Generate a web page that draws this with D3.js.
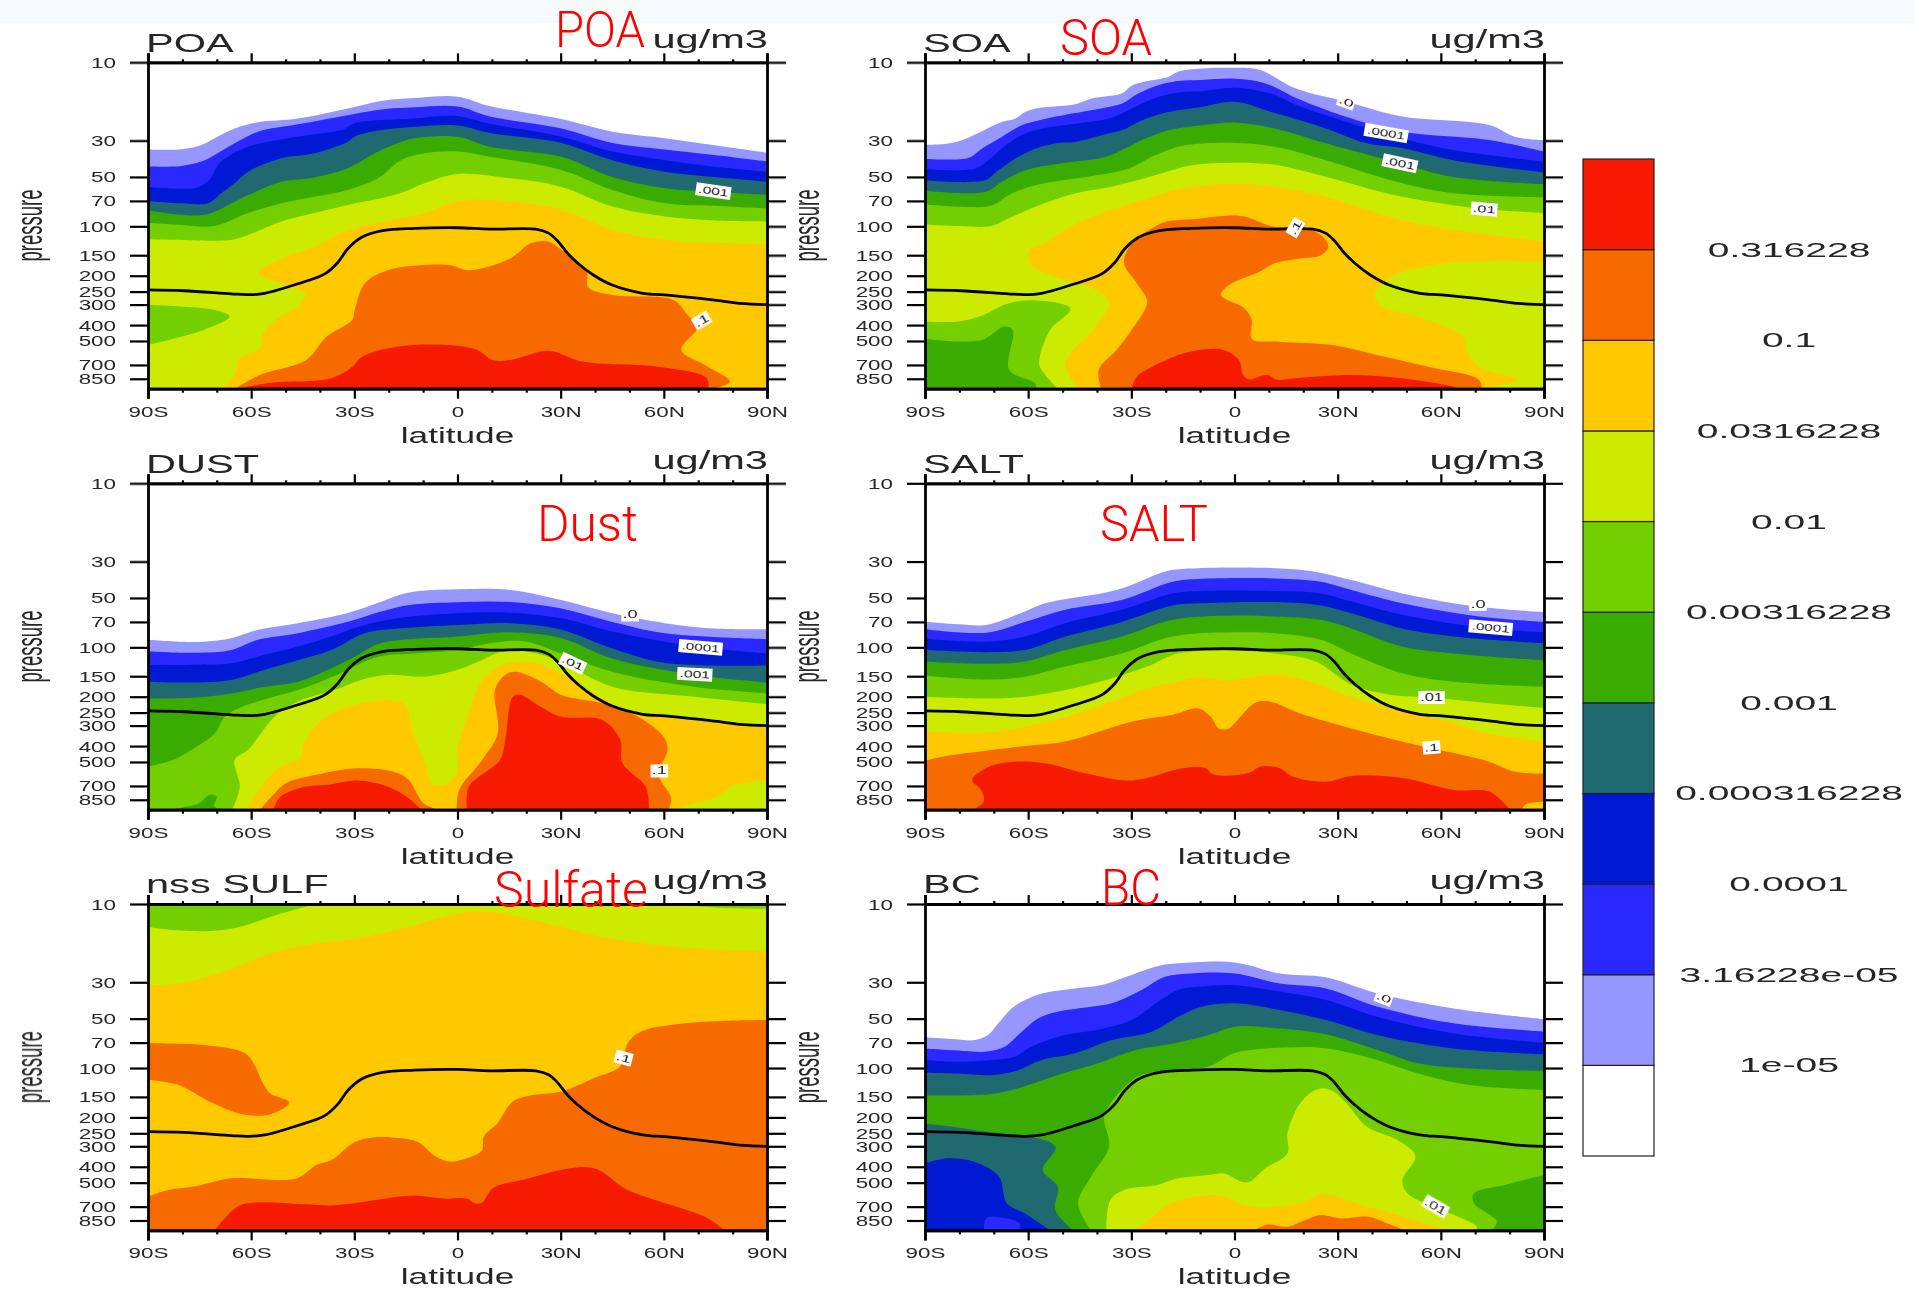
<!DOCTYPE html>
<html>
<head>
<meta charset="utf-8">
<script src="https://cdn.jsdelivr.net/npm/d3@7"></script>
<style>
	html, body {margin:0; padding:0; background:#fff;}
	text {font-family:"Liberation Sans", Arial, sans-serif; fill:#262626;}
</style>
</head>
<body>
<svg id="chart" width="1915" height="1290"></svg>
<script>
'use strict';

// legend, low to high. index in a band's first field
const band_colors = ["#ffffff","#9696ff","#2828ff","#0019d2","#1f6a70","#3aab00","#73cf00","#cdeb00","#ffc900","#f76a00","#f61b00"];
const legend_labels = ["1e-05","3.16228e-05","0.0001","0.000316228","0.001","0.00316228","0.01","0.0316228","0.1","0.316228"];

const pressure_ticks = [10,30,50,70,100,150,200,250,300,400,500,700,850];
const lat_ticks = [-90,-60,-30,0,30,60,90];
const lat_tick_labels = ["90S","60S","30S","0","30N","60N","90N"];
const lat_minor_ticks = [-80,-70,-50,-40,-20,-10,10,20,40,50,70,80];

// tropopause, [lat, hPa], same in all panels
const tropopause = [[-90,244],[-79.6,247],[-65.8,258],[-60.9,261],[-56.1,256],[-46.4,224],[-38.6,195],[-34.8,166],[-31.9,137],[-28,117],[-22.2,106.6],[-12.5,103],[0,102],[9.4,104],[22.8,104],[26.5,110],[29,122],[32,146],[35,168],[39.5,198],[45,228],[53.9,256],[60.3,262],[74.7,282],[82.1,295],[90,300]];

// each band: [colour level, [[lat, hPa], ...]], painted in this order
const poa_bands = [
	[1,[[-90,34],[-80.3,33.9],[-74.5,31.9],[-70.6,29],[-64.8,25.3],[-58,23.2],[-46.4,22],[-31.9,19.1],[-22.2,17.2],[-12.5,16.5],[0.1,16.2],[9.4,18.5],[30.2,22.2],[45,26.5],[60.3,29],[74.7,32],[90,35.5]]],
	[2,[[-90,43.2],[-80.3,42.8],[-74.5,40.3],[-70.6,36.7],[-64.8,31.2],[-58,26.5],[-46.4,23.9],[-31.9,21],[-22.2,19.4],[-12.5,18.8],[0.1,18.6],[9.4,21.4],[30.2,25.3],[45,31],[60.3,34],[74.7,36.8],[90,40.3]]],
	[3,[[-90,57.5],[-80.3,59],[-76.4,58.5],[-72.6,53.4],[-68.7,40.3],[-60.9,32.7],[-46.4,28.4],[-33.8,25.9],[-29.9,23.5],[-22.2,22.5],[-12.5,22],[0.1,21.3],[9.4,23.7],[30.2,28.4],[45,35],[60.3,39.5],[74.7,43.3],[90,46.4]]],
	[4,[[-90,70],[-80.3,72.4],[-72.6,72.4],[-68.7,62.8],[-64.8,54.7],[-60.9,46.4],[-51.2,38.5],[-41.6,35.9],[-31.9,30.5],[-29.9,28.4],[-22.2,25.9],[-12.5,24.7],[0.1,24.3],[9.4,27],[30.2,31],[45,39.5],[60.3,46.4],[74.7,50],[90,53.4]]],
	[5,[[-90,80],[-80.3,85],[-73.5,85],[-68.7,78],[-60.9,64.5],[-51.2,53.4],[-41.6,50.3],[-31.9,44.3],[-24.1,35.9],[-16.4,30.5],[-12.5,29],[0.1,28.4],[9.4,32.7],[30.2,37.7],[45,50],[60.3,58.5],[74.7,61.5],[90,64.2]]],
	[6,[[-90,95],[-80.3,98],[-70.6,99.5],[-60.9,83],[-51.2,72.4],[-41.6,66],[-31.9,60],[-23.1,51],[-16.4,39.5],[-9.6,35.9],[0.1,35],[9.4,37.7],[30.2,45.4],[45,60],[60.3,72.4],[74.7,75],[90,77.8]]],
	[7,[[-90,120],[-80.3,121],[-65.8,121],[-60.9,113],[-51.2,93.6],[-41.6,83],[-31.9,74],[-22.2,67.5],[-15.4,61.5],[-9.6,54.7],[0.1,48],[15.4,51],[30.2,57.5],[45,75.8],[60.3,87],[74.7,92],[90,93]]],
	[8,[[-68.5,977],[-64.8,805],[-63.3,637],[-57.4,554],[-56.6,449],[-52.9,372],[-45.5,295],[-44.3,256],[-48.4,234],[-58.1,192],[-52.2,161],[-41.6,133],[-31.9,105],[-22.2,94],[-9.6,83],[0.1,70],[15.4,70.5],[30.2,79],[45,105],[60.3,121],[74.7,126],[90,128]]],
	[9,[[-64.8,977],[-57.4,805],[-44,653],[-38.1,471],[-30.6,372],[-29.9,323],[-26.9,222],[-20.3,185],[-6.9,171],[-1.7,173],[3.5,185],[15.4,157],[21.3,127],[26.5,124],[30.2,139],[37.6,189],[37.9,234],[45,262],[62.9,282],[67.3,355],[70.3,400],[65.1,567],[71.8,698],[79.2,884],[74.7,977]]],
	[10,[[-63.3,977],[-54.4,900],[-36.6,843],[-30.6,718],[-27.7,623],[-17.3,541],[-3.9,528],[5.7,567],[10.2,653],[15.4,653],[26.5,573],[36.1,667],[58.4,718],[72.5,843],[72.9,977]]],
	[6,[[-90,301],[-81.1,308],[-70.7,323],[-66.3,355],[-73.7,428],[-82.6,484],[-90,528]]]
];

const soa_bands = [
	[1,[[-90,31.8],[-84.2,31.5],[-79.3,29.9],[-75.5,27.6],[-67.7,23.1],[-63.8,22.1],[-60.9,20.1],[-57,19],[-46.4,18],[-41.6,16.6],[-32.8,15.5],[-29.9,13.9],[-26,13.1],[-19.3,12.3],[-16.4,11.4],[-9.6,10.9],[0.1,10.8],[7.3,11.1],[17.7,14.4],[32.5,17.4],[48.8,21.4],[74.1,24.1],[81.5,28.4],[90,29.8]]],
	[2,[[-90,38.7],[-77.4,38.3],[-73.5,33.6],[-67.7,28.5],[-61.9,24.2],[-57,22.6],[-46.4,20.4],[-36.7,18.7],[-32.8,17.9],[-28,15.5],[-22.2,13.8],[-16.4,13],[-9.6,12.8],[0.1,12.6],[8.8,13.4],[19.1,16.9],[34,22],[48.8,26.5],[74.1,29.8],[90,35.1]]],
	[3,[[-90,44.9],[-75.5,44.5],[-71.6,39.6],[-65.8,31.3],[-60.9,27.2],[-56.1,25.4],[-46.4,23.7],[-36.7,22.1],[-32.8,20.5],[-28,18.3],[-22.2,16.3],[-16.4,15.3],[-9.6,15],[0.1,14.3],[11.7,15.8],[19.1,18.6],[43.7,27],[60.7,33.4],[90,40.3]]],
	[4,[[-90,52.4],[-72.6,52.4],[-68.7,45.5],[-63.8,38.7],[-58,33.6],[-51.2,31],[-46.4,30.6],[-36.7,27.2],[-32.8,26],[-27,22.6],[-19.3,20.1],[-9.6,18.7],[0.1,17.4],[11.7,20.4],[26.6,25.3],[38.5,31.2],[48.8,33.4],[63.7,39.5],[90,46.9]]],
	[5,[[-90,60.4],[-72.6,61.8],[-67.7,53.6],[-60.9,45.5],[-51.2,41.5],[-37.7,37.8],[-31.9,33.6],[-27,29.9],[-19.3,26],[-9.6,24.2],[0.1,23.3],[11.7,25.3],[26.6,31.2],[48.1,41.3],[63.7,50],[90,55.3]]],
	[6,[[-90,73.7],[-77.4,76.3],[-70.6,74.6],[-64.8,63],[-56.1,55.1],[-43.5,50],[-30.9,44.5],[-23.1,36.9],[-15.4,32.4],[0.1,31],[11.7,32.7],[26.6,39.5],[48.8,54.7],[63.7,62.8],[90,66.5]]],
	[7,[[-90,97.3],[-80.3,99.5],[-70.6,99.5],[-65.8,89.7],[-57,74.6],[-46.4,63],[-35.7,57.4],[-23.1,48.9],[-12.5,42.5],[0.1,40.9],[11.7,42.2],[26.6,50],[48.8,66],[72.6,78.5],[90,83]]],
	[8,[[-45.5,977],[-49.2,718],[-47.7,597],[-40.3,408],[-36.5,295],[-40.3,244],[-52.1,203],[-59.6,168],[-59.6,139],[-55.1,127],[-50.3,108],[-41.6,87.5],[-31.9,74.6],[-22.2,64.5],[-12.5,57.4],[0.1,55],[11.7,57.4],[26.6,66],[48.8,92],[63.7,105.4],[90,124]]],
	[7,[[90,164],[69.6,164],[57.8,172],[45.9,203],[40.7,262],[42.9,308],[53.3,355],[62.2,418],[66.7,471],[67.4,567],[71.1,718],[82.3,862],[71.6,977]]],
	[9,[[-38.8,977],[-39.5,750],[-34.3,567],[-29.9,428],[-26.1,323],[-25.4,282],[-28.4,222],[-32.1,168],[-29.9,127],[-24.1,103],[-20.2,94],[-10.6,90],[-1.6,86],[2.8,87],[11.7,100.5],[19.1,100.5],[25.1,113],[27.3,133],[25.1,150],[19.1,157],[11.7,168],[7.3,189],[-1.6,228],[-3.9,262],[2.8,316],[5,372],[5,484],[13.2,505],[28,528],[41.4,608],[56.3,718],[71.1,862],[71.9,977]]],
	[10,[[-29.9,977],[-28.4,823],[-23.9,718],[-15,597],[-7.6,559],[-3.1,567],[1.3,653],[2.5,805],[4.3,857],[9.5,805],[12.5,862],[17.7,843],[34,805],[48.8,843],[63.7,950],[65.2,977]]],
	[6,[[-90,380],[-80.3,380],[-72.9,347],[-67,301],[-59.6,282],[-47.7,317],[-53.6,428],[-56.6,623],[-56.6,718],[-51.4,977]]],
	[5,[[-90,484],[-73.7,495],[-67,408],[-64.5,428],[-65.5,750],[-58,906],[-57.6,977]]]
];

const dust_bands = [
	[1,[[-90,90],[-75.5,92.8],[-65.8,88],[-58,78.2],[-46.4,71.2],[-31.9,61.7],[-22.2,52.7],[-14.4,46.4],[0.1,44.3],[15.4,44.7],[30.2,51.5],[45,62],[60.3,71.2],[74.7,76.8],[90,77.5]]],
	[2,[[-90,105.5],[-75.5,108],[-65.8,103.8],[-58,90],[-46.4,82],[-31.9,69.9],[-22.2,60.5],[-14.4,55.3],[0.1,53.1],[15.4,53],[30.2,58],[45,70],[60.3,82],[90,89]]],
	[3,[[-90,128],[-80.3,128],[-65.8,125],[-56.1,111],[-46.4,99],[-36.7,86],[-27,73.2],[-17.3,66.5],[0.1,62],[15.4,61.5],[30.2,66.5],[45,80],[70.7,100],[90,109]]],
	[4,[[-90,162],[-80.3,164],[-65.8,158],[-56.1,137],[-46.4,120],[-36.7,104],[-27,82],[-17.3,76.8],[0.1,73],[15.4,71.2],[30.2,78],[45,101.5],[60,124],[90,129]]],
	[5,[[-90,205],[-75.5,202],[-65.8,191],[-56.1,174],[-46.4,162],[-36.7,134],[-29.9,114],[-22.2,94.5],[0.1,86],[15.4,81],[30.2,88],[45,117],[68.7,147],[90,164]]],
	[6,[[-90,534],[-82.6,484],[-77.4,422],[-70.6,335],[-67.7,265],[-63.8,236],[-57,210],[-46.4,182],[-36,150],[-28,125],[-22.2,113],[-12.5,109],[0.1,104],[9.4,94.5],[19.7,92],[30.2,109],[45,141],[68.7,174],[90,191]]],
	[5,[[-84.1,977],[-75.2,892],[-72.2,795],[-70,812],[-70.7,935],[-63.3,977]]],
	[7,[[-65.5,977],[-63.3,706],[-64.8,484],[-60.9,422],[-53.2,265],[-46.4,214],[-35.7,182],[-28,158],[-20.2,147],[-9.6,151],[0.1,137],[5,125],[13.9,105],[22.8,109],[30.2,123],[45,174],[68.8,200],[90,222]]],
	[8,[[-61,977],[-58.8,797],[-52.2,546],[-45.5,464],[-44.3,365],[-38.1,265],[-29.9,224],[-15.8,219],[-12.8,335],[-9.1,534],[-7.6,674],[-3.9,691],[-0.2,588],[0.1,404],[4.2,219],[6.5,166],[13.1,128],[21.3,123],[30.2,144],[39.1,191],[51,247],[67.3,277],[90,305]]],
	[7,[[90,643],[80.7,691],[74.7,830],[65.8,935],[64.3,977]]],
	[9,[[-57.4,977],[-54.4,830],[-49.9,674],[-41,598],[-29.2,546],[-18.8,572],[-14.3,640],[-9.9,892],[-5.4,977]]],
	[10,[[-53.6,977],[-51.4,812],[-44,706],[-38.1,691],[-29.2,648],[-20.3,706],[-14.3,830],[-10.6,977]]],
	[9,[[-0.2,977],[0.5,740],[7.2,484],[11.7,335],[10.9,182],[13.9,147],[16.9,141],[24.3,162],[30.2,195],[42.1,219],[52.5,265],[59.9,350],[61.1,422],[58.4,588],[62.1,830],[61.4,977]]],
	[10,[[2.8,977],[3.3,706],[12.4,484],[13.9,365],[16.1,200],[18.3,195],[24.3,231],[30.2,265],[42.1,277],[47.3,365],[48,509],[54.7,706],[55.7,977]]]
];

const salt_bands = [
	[1,[[-90,69.9],[-80.3,72.4],[-72.2,73],[-61,60.5],[-55.1,53.9],[-34.3,44.7],[-19.5,34.2],[-10.6,32.9],[11.7,32.9],[22.1,34.2],[34,38.9],[48.8,46.9],[71.1,56.6],[90,61]]],
	[2,[[-90,77.5],[-72.2,81.4],[-61,70],[-49.2,59],[-32.8,51.5],[-18,39.8],[-10.6,38.3],[11.7,38],[25.1,39.8],[34,44.7],[48.8,53.9],[71.1,64.9],[90,70]]],
	[3,[[-90,88.8],[-72.2,92.4],[-61,85.9],[-49.2,71.2],[-32.8,59.1],[-18,47],[-10.6,45.4],[11.7,45.4],[25.1,47],[34,52.6],[48.8,63.4],[74.5,76.8],[90,81]]],
	[4,[[-90,104],[-72.2,107],[-61,104],[-49.2,86],[-32.8,70],[-18,55.6],[-10.6,53.9],[11.7,53],[25.1,55.6],[34,62],[48.8,76.8],[63.7,85.9],[90,94.5]]],
	[5,[[-90,122],[-72.2,126],[-61,122],[-49.2,104],[-32.8,86],[-18,68],[-0.2,64],[11.7,64.9],[25.1,68],[34,76.8],[48.8,99],[63.7,109],[90,120]]],
	[6,[[-90,149],[-72.2,157],[-61,151],[-49.2,131],[-32.8,109],[-18,86],[-0.2,81],[11.7,82],[25.1,90],[34,109],[48.8,144],[63.7,162],[90,174]]],
	[7,[[-90,200],[-72.2,205],[-61,200],[-49.2,182],[-37.3,158],[-25.4,131],[-16.5,109],[-0.2,105],[11.7,109],[23.6,122],[34,169],[45.9,195],[57.3,202],[74,219],[90,234]]],
	[8,[[-90,325],[-72.2,331],[-61,305],[-49.2,265],[-37.3,219],[-25.4,178],[-16.5,162],[-10.6,152],[-1.7,159],[5.7,150],[13.2,147],[22.1,162],[34,200],[48.8,247],[60.7,277],[74,335],[90,375]]],
	[9,[[-90,490],[-84.8,464],[-61,400],[-49.2,375],[-29.9,284],[-18,258],[-10.6,236],[-6.9,265],[-4.6,312],[-1.6,312],[1.3,271],[5.8,219],[10.2,214],[19.1,253],[34,312],[48.8,375],[57.3,413],[74,498],[81.5,573],[90,588]]],
	[10,[[-75.9,977],[-72.9,872],[-73.7,740],[-76.3,643],[-71.4,534],[-64,498],[-55.1,509],[-43.2,588],[-31.3,648],[-25.4,625],[-15,546],[-8.3,546],[-6.8,588],[-1.6,606],[5,573],[7.3,534],[13.2,546],[16.9,614],[26.6,660],[34,608],[48.8,625],[63.7,740],[74.1,758],[80,960],[80.8,977]]],
	[8,[[83.7,977],[84.5,912],[90,872]]]
];

const sulf_bands = [
	[7,[[-90,10],[90,10]]],
	[6,[[-90,13.8],[-82.6,14.4],[-72.2,14.6],[-63.3,13.8],[-52.9,11.7],[-41,10]]],
	[6,[[61.3,10],[74.7,10.5],[90,10.7]]],
	[8,[[-90,31.2],[-81.1,30.5],[-70.7,27],[-54.4,20],[-44,17.8],[-29.2,16.2],[-14.3,13.8],[0.5,11.4],[9.4,11.1],[19.7,12.2],[30.2,13.8],[45,16.3],[60.3,18],[74.7,18.9],[90,19.5]]],
	[9,[[-90,70.5],[-73.7,72.4],[-61.8,81.4],[-58.8,98],[-56.6,124],[-54.4,143],[-48.9,162],[-54.4,191],[-62.5,191],[-72.2,160],[-81.1,127],[-90,118]]],
	[9,[[-90,608],[-84.1,554],[-76.6,528],[-66.3,471],[-46.9,471],[-41,390],[-36.6,364],[-30.6,288],[-26.2,268],[-18.8,265],[-11.4,283],[-7,339],[-2.5,372],[2.7,355],[7.1,317],[7.6,262],[11.6,217],[16.1,160],[21.3,147],[30.2,139],[39.8,115],[47.2,98],[49.5,70.5],[53.2,60],[64.2,53.9],[79,51.5],[90,51]]],
	[10,[[-70.7,977],[-64,700],[-58.8,660],[-44,678],[-36.6,688],[-21.7,628],[-12.8,598],[-3.9,625],[2.7,625],[5,667],[7.2,660],[10.2,542],[18.3,484],[39.1,405],[49.5,554],[71.8,805],[77.7,977]]]
];

const bc_bands = [
	[1,[[-90,64.9],[-82.2,66.5],[-75.5,67.5],[-71.6,62.7],[-68.7,53.4],[-64.8,43.3],[-60.9,38.5],[-56.1,35.1],[-46.4,32.7],[-38.6,31.2],[-31.9,28],[-22.2,23.9],[-16.4,23],[0.1,22.7],[13.2,26.5],[26.6,28],[41.4,35],[63.7,43.3],[90,50.3]]],
	[2,[[-90,75.9],[-80.3,78.2],[-72.6,79.5],[-66.7,74],[-62.9,63],[-57,49.8],[-51.2,45.3],[-41.6,42.3],[-35.7,40.3],[-27,33.4],[-20.2,27.8],[-12.5,26.5],[0.1,26.5],[13.2,30.5],[26.6,32.7],[41.4,42.2],[63.7,53.4],[90,60]]],
	[3,[[-90,89.4],[-80.3,91.7],[-70.6,89.4],[-63.8,85],[-59,74],[-49.3,63],[-39.6,58.5],[-29.9,51],[-22.2,39.5],[-16.4,33.4],[-7.6,31.6],[0.1,31.3],[13.2,34.2],[26.6,38.5],[41.4,48.7],[63.7,61.5],[90,70]]],
	[4,[[-90,106.8],[-80.3,108],[-70.6,110.6],[-62.9,103],[-56.1,89.4],[-46.4,81.3],[-35.7,67.5],[-24.1,60],[-16.4,48.7],[-9.6,42.3],[0.1,40.3],[13.2,44.3],[26.6,51],[41.4,62.8],[63.7,76],[90,82.5]]],
	[5,[[-90,147],[-70.6,144],[-62.9,133],[-51.2,110],[-39.6,93.6],[-29,77.9],[-17.3,70.6],[-7.6,63],[0.1,56],[13.2,57.5],[26.6,62.3],[41.4,77.5],[53.3,93.6],[68.2,100.5],[90,104]]],
	[6,[[-41.7,977],[-45.5,667],[-41.7,459],[-36.5,301],[-38,198],[-36.7,172],[-31.9,130],[-27,110],[-18,103],[-7.6,98],[0.1,81],[14.7,75],[26.6,75.8],[41.4,89.4],[53.3,108],[68.2,127],[90,136]]],
	[5,[[90,449],[78.5,517],[69.6,582],[69.6,667],[76.3,862],[74.8,977]]],
	[4,[[-90,218],[-75.5,239],[-52.1,301],[-55.8,418],[-51.4,528],[-52.1,736],[-46.9,977]]],
	[3,[[-90,380],[-83.3,355],[-75.9,372],[-68.5,459],[-66.2,667],[-61,768],[-53.6,977]]],
	[2,[[-72.9,977],[-72.2,824],[-68.5,812],[-62.5,884],[-62.5,977]]],
	[7,[[-37.3,977],[-36.1,637],[-32.1,554],[-22.4,517],[-16.5,471],[-7.6,449],[-3.1,439],[3.6,499],[8.8,411],[15.4,331],[15.4,250],[19.1,164],[23.6,136],[28,136],[32.5,164],[38.5,228],[47.4,275],[52.6,345],[48.8,484],[50.3,582],[60.7,736],[70.4,927],[70.4,977]]],
	[8,[[-29.1,977],[-25.4,862],[-19.5,683],[-9.1,598],[-3.1,608],[4.3,698],[19.1,667],[25.8,588],[37,683],[48.8,805],[60.7,950],[65.2,977]]],
	[9,[[5.8,977],[9.5,900],[15.4,927],[20.6,843],[25.1,787],[31,826],[38.5,805],[44.4,884],[49.6,977]]]
];

// contour labels: [lat, hPa, text, angle]
const poa_labels = [[74.4,61,".001",8],[71,375,".1",-30]];
const soa_labels = [[32.5,17.4,".0",20],[44.1,27,".0001",10],[48.1,41.3,".001",12],[72.6,78.5,".01",5],[17.7,102,".1",-60]];
const dust_labels = [[50.2,63.5,".0",0],[70.7,100,".0001",5],[69,146,".001",3],[33.5,125,".01",25],[58.7,567,".1",0]];
const salt_labels = [[70.8,54.7,".0",0],[74.5,75.8,".0001",5],[57.3,202,".01",0],[57.3,408,".1",-5]];
const sulf_labels = [[48.3,87,".1",15]];
const bc_labels = [[43.4,37.3,".0",20],[58.5,698,".01",30]];

const panels = [
	{title:"POA", left:148, top:62.3, bands:poa_bands, labels:poa_labels},
	{title:"SOA", left:925, top:62.3, bands:soa_bands, labels:soa_labels},
	{title:"DUST", left:148, top:483.3, bands:dust_bands, labels:dust_labels},
	{title:"SALT", left:925, top:483.3, bands:salt_bands, labels:salt_labels},
	{title:"nss SULF", left:148, top:904, bands:sulf_bands, labels:sulf_labels},
	{title:"BC", left:925, top:904, bands:bc_bands, labels:bc_labels}
];

// red notes pasted over the figure: text, left, right, baseline
const red_notes = [["POA",555,645,47],["SOA",1060,1152,55],["Dust",537,638,541],["SALT",1100,1208,541],["Sulfate",494,648,907],["BC",1101,1161,905]];

const panel_w = 619;
const panel_h = 326.4;
const stretch = 1.6;	// the whole figure is wider than tall

const svg = d3.select("#chart");
svg.append("rect").attr("width",1915).attr("height",23).attr("fill","#f6fafc");

const figure = svg.append("g").style("filter","blur(0.6px)");

const x = d3.scaleLinear().domain([-90,90]).range([0,panel_w]);
const y = d3.scaleLog().domain([10,977]).range([0,panel_h]);
const smooth = d3.line().x(d => x(d[0])).y(d => y(d[1])).curve(d3.curveCatmullRom.alpha(0.5));

// which plot corners the band has to go round to close up
function closing(first, last){
	const on_l = d => d[0] <= -90, on_r = d => d[0] >= 90, on_b = d => d[1] >= 977, on_t = d => d[1] <= 10;
	const bl = [-90,977], br = [90,977], tl = [-90,10], tr = [90,10];
	if (on_r(last) && on_l(first)) return [br,bl];
	if (on_r(last) && on_b(first)) return [br];
	if (on_b(last) && on_r(first)) return [br];
	if (on_b(last) && on_l(first)) return [bl];
	if (on_t(last) && on_l(first)) return [tl];
	if (on_r(last) && on_t(first)) return [tr];
	return [];
}

function band_path(pts){
	const extra = closing(pts[0], pts[pts.length-1]);
	return smooth(pts) + extra.map(c => "L" + x(c[0]) + "," + y(c[1])).join("") + "Z";
}

function squeeze_text(sel, px, py){
	sel.attr("x", px/stretch).attr("y", py).attr("dy", null).attr("transform", "scale(" + stretch + ",1)");
}

panels.forEach((p, i) => {
	const g = figure.append("g").attr("transform", "translate(" + p.left + "," + p.top + ")");
	const clip_id = "clip" + i;
	g.append("clipPath").attr("id", clip_id).append("rect").attr("width", panel_w).attr("height", panel_h);

	const field = g.append("g").attr("clip-path", "url(#" + clip_id + ")");
	field.selectAll("path.band").data(p.bands).enter().append("path")
		.attr("class", "band")
		.attr("fill", d => band_colors[d[0]])
		.attr("d", d => band_path(d[1]));

	field.append("path").datum(tropopause)
		.attr("fill", "none").attr("stroke", "#000").attr("stroke-width", 2.8)
		.attr("d", smooth);

	// contour labels
	const tag = g.selectAll("g.tag").data(p.labels).enter().append("g")
		.attr("class", "tag")
		.attr("transform", d => "translate(" + x(d[0]) + "," + y(d[1]) + ") rotate(" + d[3] + ")");
	tag.append("rect")
		.attr("x", d => -d[2].length*4.4).attr("width", d => d[2].length*8.8)
		.attr("y", -6.5).attr("height", 13).attr("fill", "#fff");
	tag.append("text").text(d => d[2])
		.attr("text-anchor", "middle").attr("dy", "0.35em")
		.attr("font-size", 10).attr("textLength", d => d[2].length*7.6)
		.attr("lengthAdjust", "spacingAndGlyphs");

	// axes
	const ax_bottom = g.append("g").attr("transform", "translate(0," + panel_h + ")")
		.call(d3.axisBottom(x).tickValues(lat_ticks).tickSize(10).tickFormat((d,j) => lat_tick_labels[j]));
	const ax_bottom_minor = g.append("g").attr("transform", "translate(0," + panel_h + ")")
		.call(d3.axisBottom(x).tickValues(lat_minor_ticks).tickSizeOuter(0).tickSizeInner(4).tickFormat(""));
	const ax_top = g.append("g").call(d3.axisTop(x).tickValues(lat_ticks).tickSize(9).tickFormat(""));
	const ax_top_minor = g.append("g").call(d3.axisTop(x).tickValues(lat_minor_ticks).tickSizeOuter(0).tickSizeInner(3).tickFormat(""));
	const ax_left = g.append("g").call(d3.axisLeft(y).tickValues(pressure_ticks).tickSizeOuter(0).tickSizeInner(18).tickFormat(d3.format("d")));
	const ax_right = g.append("g").attr("transform", "translate(" + panel_w + ",0)")
		.call(d3.axisRight(y).tickValues(pressure_ticks).tickSizeOuter(0).tickSizeInner(19).tickFormat(""));

	[ax_bottom, ax_bottom_minor, ax_top, ax_top_minor, ax_left, ax_right].forEach(a => {
		a.selectAll("path").attr("stroke", "#000").attr("stroke-width", 2.8);
		a.selectAll("line").attr("stroke", "#000").attr("stroke-width", 2.2);
	});
	ax_left.selectAll("text").attr("font-size", 14).attr("fill", "#333").attr("text-anchor", "end").call(squeeze_text, -32, 5);
	ax_bottom.selectAll("text").attr("font-size", 14).attr("fill", "#333").attr("text-anchor", "middle").call(squeeze_text, 0, 28);

	// titles
	g.append("text").text(p.title).attr("font-size", 26).attr("transform", "translate(-2,-10.6) scale(" + stretch + ",1)");
	g.append("text").text("ug/m3").attr("font-size", 26).attr("text-anchor", "end").attr("transform", "translate(" + (panel_w+1) + ",-14.7) scale(" + stretch + ",1)");
	g.append("text").text("latitude").attr("font-size", 22).attr("text-anchor", "middle").attr("transform", "translate(" + panel_w/2 + "," + (panel_h+54) + ") scale(" + stretch + ",1)");
	g.append("text").text("pressure").attr("font-size", 18.5).attr("text-anchor", "middle").attr("transform", "translate(-106," + panel_h/2 + ") scale(2,1) rotate(-90)");
});

// colour bar
const bar = figure.append("g");
const bar_y = d3.scaleLinear().domain([0, band_colors.length]).range([1156,159]);
bar.selectAll("rect").data(band_colors).enter().append("rect")
	.attr("x", 1583).attr("width", 71)
	.attr("y", (d,i) => bar_y(i+1)).attr("height", (d,i) => bar_y(i)-bar_y(i+1))
	.attr("fill", d => d).attr("stroke", "#222").attr("stroke-width", 1.2);
bar.selectAll("text").data(legend_labels).enter().append("text")
	.text(d => d)
	.attr("font-size", 20).attr("text-anchor", "middle").attr("dy", "0.35em")
	.attr("transform", (d,i) => "translate(1789," + bar_y(i+1) + ") scale(1.95,1)");

// red notes stay sharp
svg.selectAll("text.note").data(red_notes).enter().append("text")
	.attr("class", "note")
	.text(d => d[0])
	.attr("x", d => d[1]).attr("y", d => d[3])
	.attr("textLength", d => d[2]-d[1]).attr("lengthAdjust", "spacingAndGlyphs")
	.attr("font-size", 50)
	.style("font-family", "Roboto").style("font-weight", 300).style("fill", "#ff0000");
</script>
</body>
</html>
